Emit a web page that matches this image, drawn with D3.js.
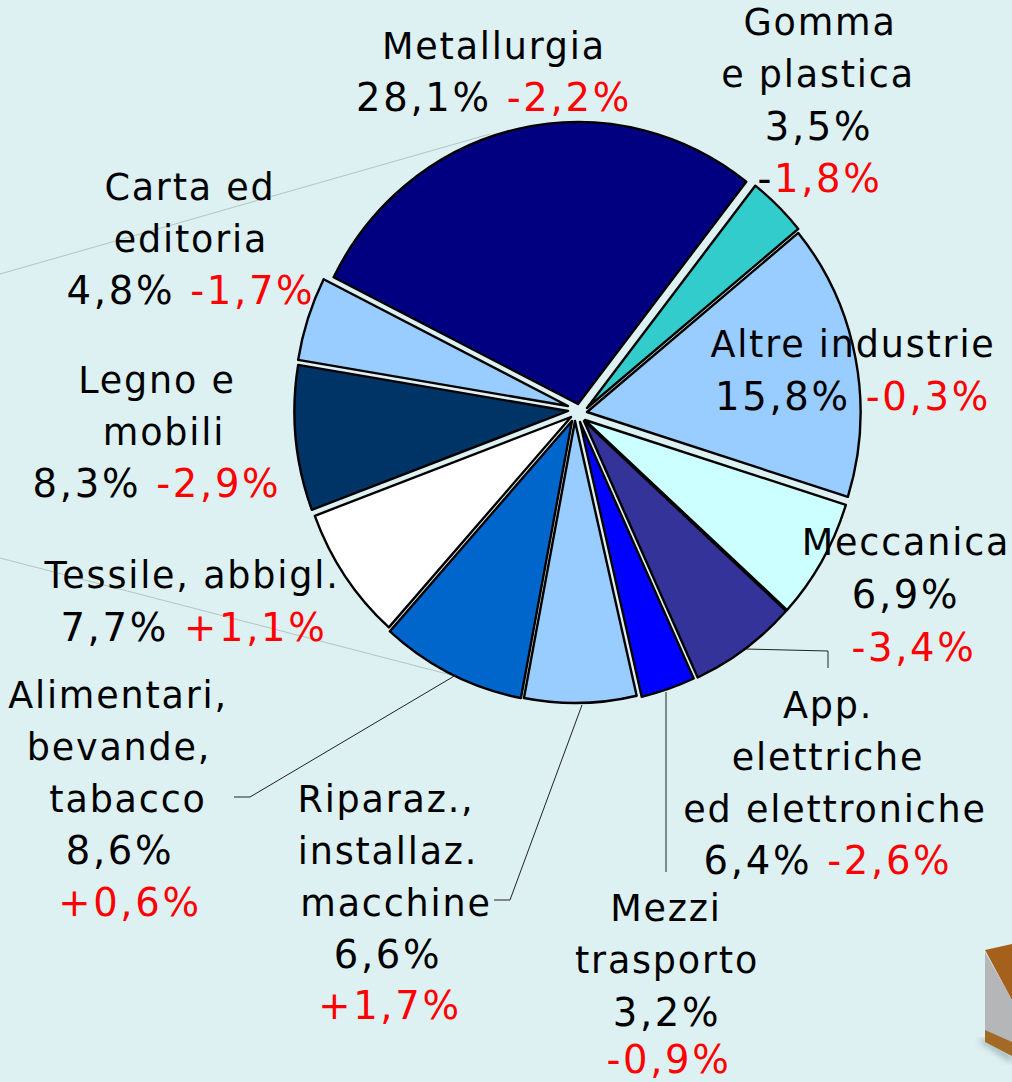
<!DOCTYPE html>
<html><head><meta charset="utf-8">
<script src="https://cdnjs.cloudflare.com/ajax/libs/d3/7.8.5/d3.min.js"></script>
<style>html,body{margin:0;padding:0;background:#ddf0f2;overflow:hidden}text{font-family:"DejaVu Sans",Verdana,sans-serif;font-size:36.5px;letter-spacing:1.8px}</style>
</head><body><svg id="c" width="1012" height="1082" style="display:block"></svg>
<script>
const sectors=["Metallurgia","Gomma e plastica","Altre industrie","Meccanica","App. elettriche","Mezzi trasporto","Riparaz.","Alimentari","Tessile","Legno e mobili","Carta ed editoria"];
const shares=[28.1,3.5,15.8,6.9,6.4,3.2,6.6,8.6,7.7,8.3,4.8];
const colors=["#000080","#33cccc","#99ccff","#ccffff","#333399","#0000ff","#99ccff","#0066cc","#ffffff","#003366","#99ccff"];
const apexX=[578,587,587,585,584,580,575,572,571,568,568];
const apexY=[404,408,412,420,421,422,421,421,417,411,406];
const labels=[
 [[494,59,"Metallurgia"],[494,111,"28,1% ","-2,2%"]],
 [[820,35,"Gomma"],[818,87,"e plastica"],[819,140,"3,5%"],[820,192,"-","1,8%"]],
 [[853,357,"Altre industrie"],[853,410,"15,8% ","-0,3%"]],
 [[906,555,"Meccanica"],[906,608,"6,9%"],[914,661,null,"-3,4%"]],
 [[828,718,"App."],[828,770,"elettriche"],[835,822,"ed elettroniche"],[828,874,"6,4% ","-2,6%"]],
 [[666,921,"Mezzi"],[667,973,"trasporto"],[667,1026,"3,2%"],[669,1073,null,"-0,9%"]],
 [[386,812,"Riparaz.,"],[388,864,"installaz."],[396,916,"macchine"],[388,968,"6,6%"],[390,1019,null,"+1,7%"]],
 [[118,708,"Alimentari,"],[119,760,"bevande,"],[128,812,"tabacco"],[120,864,"8,6%"],[130,916,null,"+0,6%"]],
 [[192,588,"Tessile, abbigl."],[194,641,"7,7% ","+1,1%"]],
 [[157,393,"Legno e"],[164,445,"mobili"],[157,497,"8,3% ","-2,9%"]],
 [[190,200,"Carta ed"],[191,252,"editoria"],[191,304,"4,8% ","-1,7%"]]
];
const leaders=[
 [[0,274],[490,134]],[[0,558],[455,676]],
 [[234,797],[250,797],[456,675]],
 [[494,900],[510,900],[582,705]],
 [[666,692],[666,872]],
 [[745,649],[828,651],[828,668]]
];
const boxShapes=[
 {fill:"#8fa3a6",pts:[[978,1040],[1012,1062],[1012,1056],[985,1040]],blur:true},
 {fill:"#b4b6b8",pts:[[985,952],[1012,1000],[1012,1052],[985,1038]]},
 {fill:"#a36a26",pts:[[985,1030],[1012,1042],[1012,1056],[985,1042]]},
 {fill:"#a5611f",pts:[[985,950],[1012,944],[1012,1000]]}
];
const svg=d3.select("#c");
const defs=svg.append("defs");
defs.append("filter").attr("id","soft").append("feGaussianBlur").attr("stdDeviation",3);
defs.append("filter").attr("id","fine").append("feGaussianBlur").attr("stdDeviation",0.5);
svg.append("g").attr("filter","url(#fine)").selectAll("polygon").data(boxShapes).join("polygon")
 .attr("points",d=>d.pts.join(" ")).attr("fill",d=>d.fill).attr("filter",d=>d.blur?"url(#soft)":null);
svg.append("g").attr("fill","none").attr("stroke","#b5c4c0").selectAll("path").data(leaders.slice(0,2)).join("path").attr("d",d3.line());
const r=282,sx=0.97;
const arc=d3.arc().innerRadius(0).outerRadius(r);
const startA=-63.3*Math.PI/180;
const pie=d3.pie().sort(null).startAngle(startA).endAngle(startA+2*Math.PI);
svg.append("g").selectAll("path").data(pie(shares)).join("path")
 .attr("transform",(d,i)=>`translate(${apexX[i]},${apexY[i]}) scale(${sx},1)`)
 .attr("d",arc).attr("fill",(d,i)=>colors[i]).attr("stroke","#000").attr("stroke-width",2.4)
 .attr("stroke-linejoin","round").attr("vector-effect","non-scaling-stroke");
svg.append("g").attr("fill","none").attr("stroke","#222").selectAll("path").data(leaders.slice(2)).join("path").attr("d",d3.line());
const g=svg.append("g");
const numeric=/\d/;
const styleNum=s=>s.style("letter-spacing","2.7px").style("font-size","38.5px");
labels.flat().forEach(([x,y,a,b])=>{
 const t=g.append("text").attr("x",x).attr("y",y).attr("text-anchor","middle");
 if(a){const s=t.append("tspan").attr("fill","#000").text(a); if(numeric.test(a)||a==="-")styleNum(s);}
 if(b){styleNum(t.append("tspan").attr("fill","#ff0000").text(b));}
});
</script></body></html>
